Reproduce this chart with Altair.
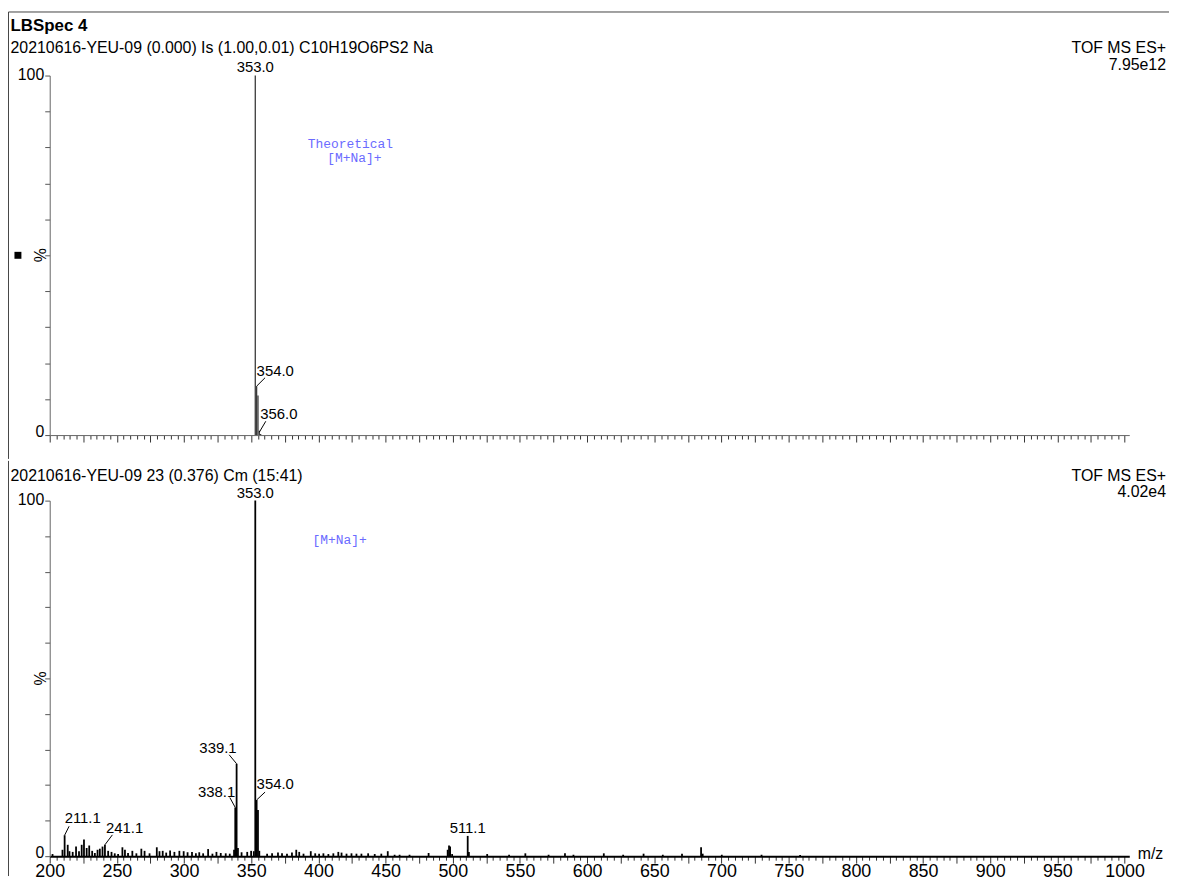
import altair as alt
import pandas as pd

FONT = "Liberation Sans"
MONO = "Liberation Mono"

# ---------------- data ----------------
# top panel: theoretical isotope pattern
theo_mz = [353.0, 354.0, 355.0, 356.0, 357.0]
theo_int = [100.0, 13.6, 11.0, 1.2, 0.3]

# bottom panel: measured spectrum (m/z, relative intensity %)
meas_mz = [
    202.1, 209.5, 211.1, 213.4, 214.7, 217.1, 219.6, 221.8, 223.8, 225.5,
    227.5, 229.4, 231.6, 233.6, 235.6, 237.3, 239.3, 241.1, 243.5, 246.0,
    248.4, 250.9, 254.1, 256.0, 258.3, 261.5, 264.5, 268.2, 270.6, 274.3,
    279.7, 281.7, 284.1, 286.7, 289.6, 292.8, 296.5, 299.7, 302.6, 305.9,
    308.8, 311.3, 314.2, 317.9, 321.1, 324.1, 327.3, 331.0, 334.0, 337.2,
    338.1, 339.1, 340.1, 342.8, 347.0, 349.9, 351.9, 353.0, 354.0, 355.0,
    356.0, 361.8, 365.5, 369.9, 372.9, 376.6, 380.3, 383.5, 385.7, 388.9,
    394.3, 397.6, 400.5, 403.7, 407.4, 411.1, 414.8, 417.2, 420.9, 424.6,
    428.3, 432.0, 437.0, 441.9, 446.8, 451.6, 456.7, 460.4, 467.8, 482.0,
    496.2, 497.2, 498.0, 499.5, 511.1, 512.0, 525.6, 541.9, 554.0, 571.3,
    583.5, 589.8, 612.4, 626.8, 642.0, 656.3, 670.6, 684.8, 686.0, 700.2,
    729.8, 758.5,
]
meas_int = [
    0.6, 1.8, 5.9, 3.2, 1.4, 1.2, 2.7, 1.4, 3.2, 4.7,
    2.3, 3.0, 1.5, 0.9, 1.8, 2.1, 2.7, 3.2, 1.5, 1.2,
    0.8, 0.6, 2.5, 1.8, 0.9, 1.5, 0.8, 2.1, 1.5, 0.8,
    2.5, 1.4, 1.5, 1.0, 1.6, 1.2, 1.5, 1.4, 1.1, 1.2,
    0.8, 1.1, 0.8, 2.0, 0.7, 1.2, 0.9, 0.8, 0.7, 1.8,
    13.7, 26.0, 2.3, 1.1, 1.2, 1.5, 1.4, 100.0, 15.8, 13.0,
    1.5, 0.7, 0.8, 1.0, 0.8, 0.7, 1.0, 1.8, 1.2, 0.7,
    1.4, 0.8, 0.7, 0.8, 0.6, 0.8, 1.2, 1.0, 0.7, 0.8,
    0.7, 0.7, 0.8, 0.6, 0.7, 1.4, 0.4, 0.4, 0.4, 0.9,
    1.8, 3.0, 2.7, 0.6, 5.7, 1.2, 0.6, 0.4, 0.8, 0.4,
    0.8, 0.4, 0.8, 0.4, 0.7, 0.4, 0.7, 2.5, 0.7, 0.4,
    0.4, 0.3,
]

# labelled peaks
top_lab_text = ["353.0", "354.0", "356.0"]
top_lab_mz = [353.0, 354.0, 356.0]
top_lab_int = [100.0, 13.6, 0.8]

bot_lab_text = ["353.0", "354.0", "339.1", "338.1", "211.1", "241.1", "511.1"]
bot_lab_mz = [353.0, 354.0, 339.1, 338.1, 211.1, 241.1, 511.1]
bot_lab_int = [100.0, 15.8, 26.0, 13.7, 5.9, 3.2, 5.7]

x_ticks = list(range(200, 1001, 5))
y_ticks = list(range(0, 101, 10))

# ---------------- styles ----------------
label_style_top = {
    "353.0": ("center", 0, -4, None),
    "354.0": ("left", 0, -10, (8.5, -8.5)),
    "356.0": ("left", 1, -13, (6.5, -11)),
}
label_style_bot = {
    "353.0": ("center", 0, -3, None),
    "354.0": ("left", 0, -11, (8.5, -8)),
    "339.1": ("right", 0, -11, (-7.5, -9)),
    "338.1": ("right", 0, -11, (-5.5, -10)),
    "211.1": ("left", 0, -12, (4.5, -9)),
    "241.1": ("left", 1, -12, (7.5, -10)),
    "511.1": ("center", 0, -3, None),
}

W = 1087
H_TOP, H_BOT = 362, 358
XDOM = [200, 1003.5]
one = pd.DataFrame({"k": [0]})


def xs():
    return alt.Scale(domain=XDOM, nice=False, zero=False)


def ys():
    return alt.Scale(domain=[0, 100], nice=False, zero=True)


def x_axis(bottom):
    return alt.Axis(
        values=x_ticks,
        labels=bottom,
        labelExpr="datum.value % 50 === 0 ? format(datum.value, 'd') : ''",
        labelFont=FONT,
        labelFontSize=18,
        labelColor="black",
        labelPadding=-1,
        labelOverlap=False,
        labelFlush=False,
        labelBound=False,
        tickSize={"condition": {"test": "datum.value % 25 === 0", "value": 7}, "value": 4},
        tickColor="#333",
        tickWidth=1,
        domainColor="black" if bottom else "#666",
        domainWidth=2 if bottom else 1,
        grid=False,
        title=None,
    )


Y_AXIS = alt.Axis(
    values=y_ticks,
    labelExpr="datum.value === 0 || datum.value === 100 ? format(datum.value, 'd') : ''",
    labelFont=FONT,
    labelFontSize=16,
    labelColor="black",
    labelPadding=1,
    labelOffset={"condition": {"test": "datum.value === 0", "value": -4}, "value": -1},
    labelOverlap=False,
    labelFlush=False,
    labelBound=False,
    tickSize=5,
    tickColor="#555",
    domainColor="#666",
    grid=False,
    title=None,
)


def text_value(s, x, y, align="left", size=16, weight="normal", font=FONT,
               color="black", angle=0):
    return alt.Chart(one).mark_text(
        align=align, baseline="alphabetic", fontSize=size, fontWeight=weight,
        font=font, color=color, angle=angle,
    ).encode(x=alt.value(x), y=alt.value(y), text=alt.value(s))


def peak_label_layers(texts, mzs, ints, style, xax, size=15):
    layers = []
    for t, m, v in zip(texts, mzs, ints):
        align, dx, dy, lead = style[t]
        df = pd.DataFrame({"mz": [m], "inten": [v], "label": [t]})
        base = alt.Chart(df)
        layers.append(
            base.mark_text(align=align, baseline="alphabetic", dx=dx, dy=dy,
                           font=FONT, fontSize=size, color="black").encode(
                x=alt.X("mz:Q", scale=xs(), axis=xax),
                y=alt.Y("inten:Q", scale=ys(), axis=Y_AXIS),
                text="label:N",
            )
        )
        if lead is not None:
            layers.append(
                base.mark_rule(color="black", strokeWidth=1,
                               x2Offset=lead[0], y2Offset=lead[1]).encode(
                    x=alt.X("mz:Q", scale=xs(), axis=xax),
                    y=alt.Y("inten:Q", scale=ys(), axis=Y_AXIS),
                    x2="mz:Q",
                    y2="inten:Q",
                )
            )
    return layers


def annot(texts_pos, xax, color="#6b6bff"):
    rows = pd.DataFrame(texts_pos, columns=["mz", "inten", "label"])
    return alt.Chart(rows).mark_text(
        align="center", baseline="middle", font=MONO, fontSize=13, color=color
    ).encode(
        x=alt.X("mz:Q", scale=xs(), axis=xax),
        y=alt.Y("inten:Q", scale=ys(), axis=Y_AXIS),
        text="label:N",
    )


# ---------------- top panel ----------------
XA_TOP = x_axis(False)
theo_df = pd.DataFrame({"mz": theo_mz, "inten": theo_int})
top_bars = alt.Chart(theo_df).mark_rule(color="#3a3a3a", strokeWidth=1.3).encode(
    x=alt.X("mz:Q", scale=xs(), axis=XA_TOP),
    y=alt.Y("inten:Q", scale=ys(), axis=Y_AXIS),
    y2=alt.datum(0),
)

frame_left_top = alt.Chart(one).mark_rule(color="#444", strokeWidth=1).encode(
    x=alt.value(-41.5), y=alt.value(-64), y2=alt.value(H_TOP + 24))
frame_top = alt.Chart(one).mark_rule(color="#444", strokeWidth=1).encode(
    x=alt.value(-41.5), x2=alt.value(1127), y=alt.value(-64))

top_layers = [
    top_bars, frame_left_top, frame_top,
    text_value("LBSpec 4", -39.5, -45, size=17, weight="bold"),
    text_value("20210616-YEU-09  (0.000) Is (1.00,0.01) C10H19O6PS2 Na", -39.5, -23),
    text_value("TOF MS ES+", 1124, -23, align="right"),
    text_value("7.95e12", 1124, -6, align="right"),
    text_value("%", -4, H_TOP / 2, align="center", angle=270),
    alt.Chart(one).mark_square(size=49, color="black", filled=True, opacity=1).encode(
        x=alt.value(-32), y=alt.value(H_TOP / 2)),
    annot([[423.7, 81.0, "Theoretical"], [426.7, 77.0, "[M+Na]+"]], XA_TOP),
] + peak_label_layers(top_lab_text, top_lab_mz, top_lab_int, label_style_top, XA_TOP)

top = alt.layer(*top_layers).properties(width=W, height=H_TOP)

# ---------------- bottom panel ----------------
XA_BOT = x_axis(True)
meas_df = pd.DataFrame({"mz": meas_mz, "inten": meas_int})
bot_bars = alt.Chart(meas_df).mark_rule(color="black", strokeWidth=1.8).encode(
    x=alt.X("mz:Q", scale=xs(), axis=XA_BOT),
    y=alt.Y("inten:Q", scale=ys(), axis=Y_AXIS),
    y2=alt.datum(0),
)
frame_left_bot = alt.Chart(one).mark_rule(color="#444", strokeWidth=1).encode(
    x=alt.value(-41.5), y=alt.value(-40), y2=alt.value(H_BOT + 20))

bot_layers = [
    bot_bars, frame_left_bot,
    text_value("20210616-YEU-09 23 (0.376) Cm (15:41)", -39.5, -20),
    text_value("TOF MS ES+", 1124, -20, align="right"),
    text_value("4.02e4", 1124, -4, align="right"),
    text_value("%", -4, H_BOT / 2, align="center", angle=270),
    text_value("m/z", 1095.5, H_BOT + 3, size=16),
    annot([[415.8, 89.0, "[M+Na]+"]], XA_BOT),
] + peak_label_layers(bot_lab_text, bot_lab_mz, bot_lab_int, label_style_bot, XA_BOT)

bottom = alt.layer(*bot_layers).properties(width=W, height=H_BOT)

chart = alt.vconcat(top, bottom, spacing=0).properties(
    padding={"left": 0, "top": 0, "right": 0, "bottom": 0}
).configure(font=FONT).configure_view(stroke="transparent", strokeWidth=0)

chart.save("out.html", embed_options={"renderer": "svg", "actions": False})
